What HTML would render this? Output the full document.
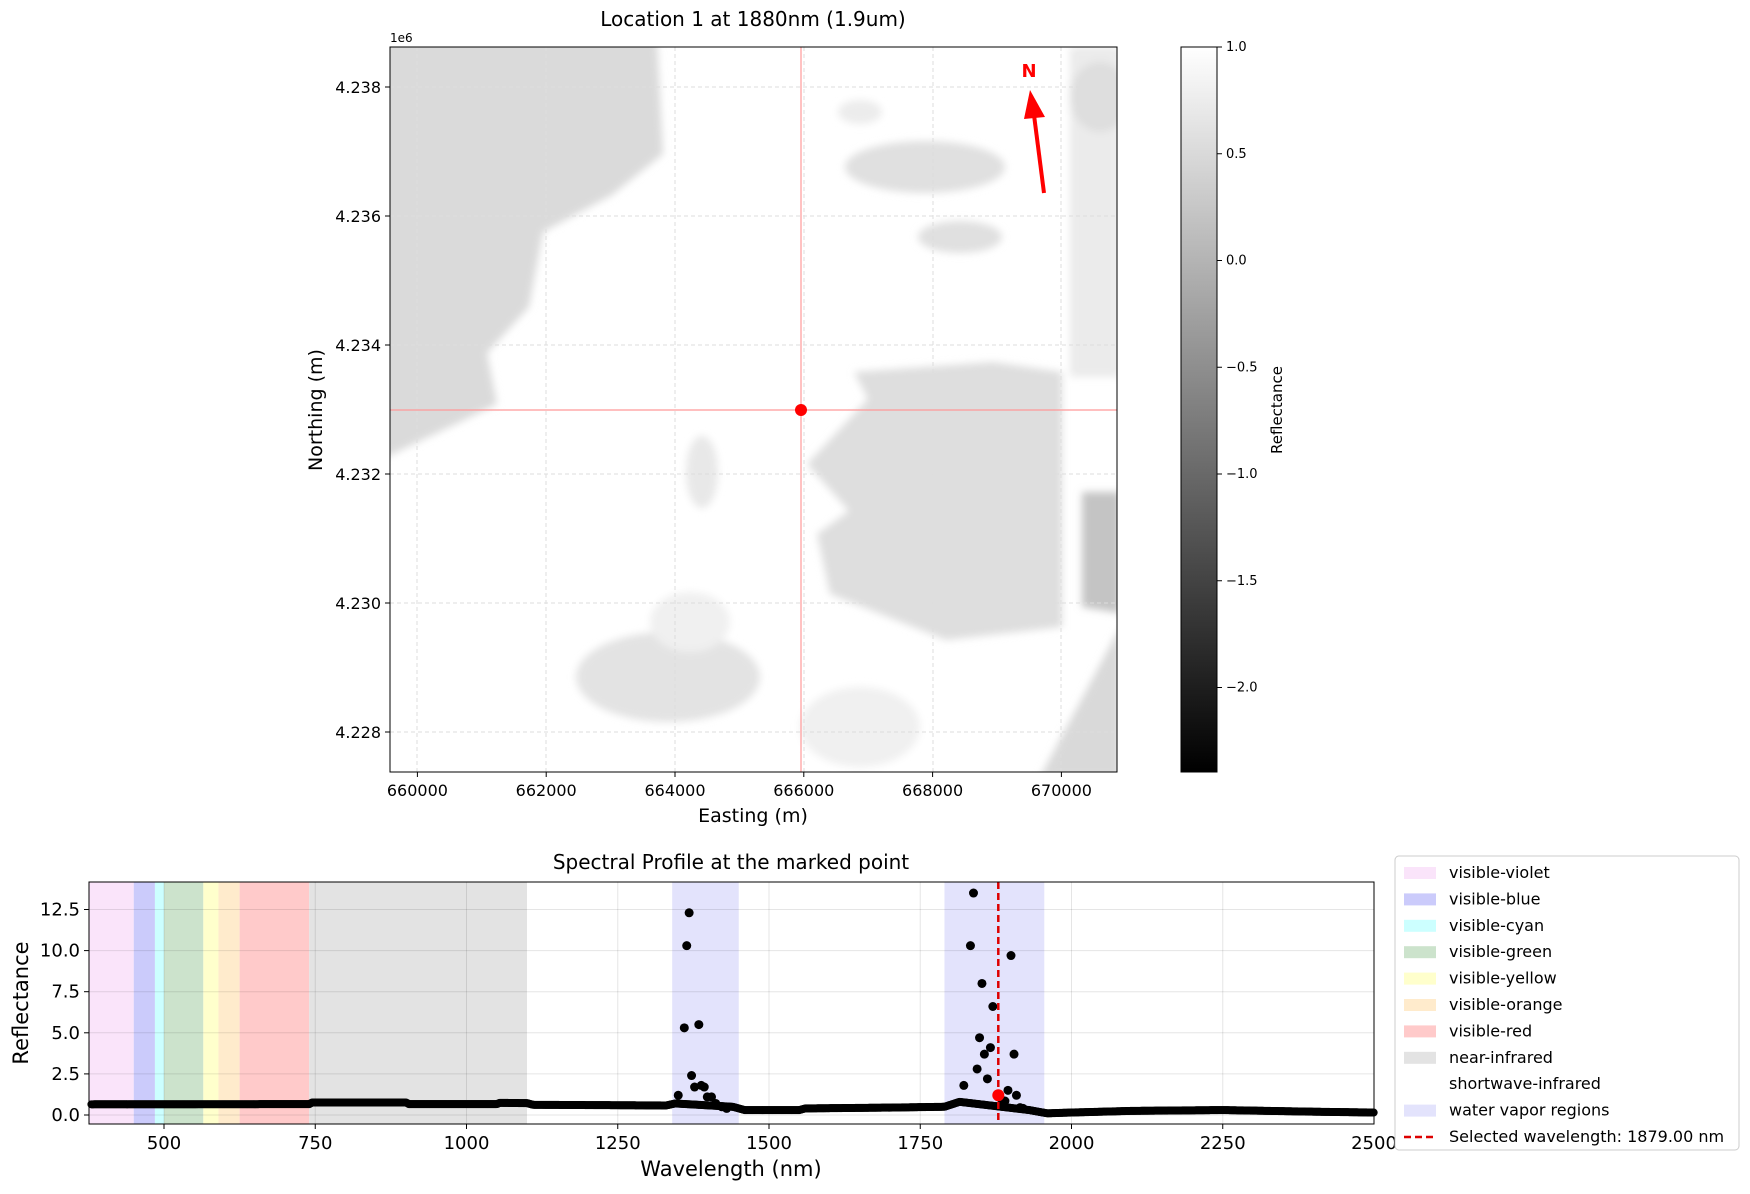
<!DOCTYPE html>
<html><head><meta charset="utf-8"><style>
body{margin:0;background:#fff;width:1750px;height:1189px;overflow:hidden;font-family:"Liberation Sans","DejaVu Sans",sans-serif}
svg text{font-family:"DejaVu Sans","Liberation Sans",sans-serif}
</style></head><body>
<svg id="s" width="1750" height="1189" xmlns="http://www.w3.org/2000/svg">
<defs>
<filter id="bl" filterUnits="userSpaceOnUse" x="0" y="0" width="1750" height="1189"><feGaussianBlur stdDeviation="4"/></filter>
<linearGradient id="cb" x1="0" y1="1" x2="0" y2="0"><stop offset="0" stop-color="#000"/><stop offset="1" stop-color="#fff"/></linearGradient>
<clipPath id="mc"><rect x="390" y="47" width="727" height="725"/></clipPath>
</defs>
<text x="753" y="26" font-size="20" text-anchor="middle">Location 1 at 1880nm (1.9um)</text>
<g clip-path="url(#mc)">
<rect x="390" y="47" width="727" height="725" fill="#fff"/>
<g filter="url(#bl)">
<g transform="translate(390,47)">
<polygon points="-10,-10 267,-10 273,107 222,148 153,185 139,260 97,306 107,357 70,375 -10,413" fill="#dadada"/>
<ellipse cx="278" cy="630" rx="92" ry="45" fill="#e3e3e3"/>
<ellipse cx="300" cy="575" rx="40" ry="30" fill="#f0f0f0"/>
<polygon points="464,325 603,315 672,325 672,580 556,593 440,547 427,487 459,464 417,417 478,352" fill="#dedede"/>
<ellipse cx="535" cy="120" rx="80" ry="26" fill="#e0e0e0"/>
<ellipse cx="570" cy="190" rx="42" ry="16" fill="#e0e0e0"/>
<ellipse cx="470" cy="65" rx="22" ry="12" fill="#ececec"/>
<rect x="680" y="0" width="50" height="330" fill="#ebebeb"/>
<ellipse cx="710" cy="50" rx="30" ry="35" fill="#dedede"/>
<polygon points="692,445 730,445 730,566 692,560" fill="#c4c4c4"/>
<polygon points="650,730 730,580 730,730" fill="#d9d9d9"/>
<ellipse cx="312" cy="425" rx="16" ry="36" fill="#e8e8e8"/>
<ellipse cx="470" cy="680" rx="60" ry="40" fill="#f0f0f0"/>
</g></g>
<g stroke="#ddd" stroke-dasharray="4,3" stroke-width="1">
<line x1="417" y1="47" x2="417" y2="772"/><line x1="546" y1="47" x2="546" y2="772"/><line x1="675" y1="47" x2="675" y2="772"/><line x1="804" y1="47" x2="804" y2="772"/><line x1="933" y1="47" x2="933" y2="772"/><line x1="1061" y1="47" x2="1061" y2="772"/>
<line x1="390" y1="87" x2="1117" y2="87"/><line x1="390" y1="216" x2="1117" y2="216"/><line x1="390" y1="345" x2="1117" y2="345"/><line x1="390" y1="474" x2="1117" y2="474"/><line x1="390" y1="603" x2="1117" y2="603"/><line x1="390" y1="732" x2="1117" y2="732"/>
</g>
<line x1="801" y1="47" x2="801" y2="772" stroke="#f99" stroke-width="1.2"/>
<line x1="390" y1="410" x2="1117" y2="410" stroke="#f99" stroke-width="1.2"/>
<circle cx="801" cy="410" r="6" fill="red"/>
<line x1="1044" y1="193" x2="1034" y2="115" stroke="red" stroke-width="4"/>
<polygon points="1030,90 1045,117 1024,119" fill="red"/>
<text x="1029" y="77" font-size="18" font-weight="bold" fill="red" text-anchor="middle">N</text>
</g>
<rect x="390" y="47" width="727" height="725" fill="none" stroke="#000" stroke-width="1"/>
<g font-size="16" text-anchor="middle" id="xt"></g>
<text x="390" y="42" font-size="12">1e6</text>
<text x="753" y="822" font-size="19" text-anchor="middle">Easting (m)</text>
<text transform="translate(322,410) rotate(-90)" font-size="19" text-anchor="middle">Northing (m)</text>
<rect x="1181" y="47" width="36" height="725" fill="url(#cb)" stroke="#000"/>
<text transform="translate(1282,410) rotate(-90)" font-size="15" text-anchor="middle">Reflectance</text>
<text x="731" y="869" font-size="20" text-anchor="middle">Spectral Profile at the marked point</text>
<g id="sp"></g>
<rect x="89" y="882" width="1285" height="242" fill="none" stroke="#000"/>
<text x="731" y="1176" font-size="21" text-anchor="middle">Wavelength (nm)</text>
<text transform="translate(28,1003) rotate(-90)" font-size="21" text-anchor="middle">Reflectance</text>
<g id="lg"></g>
</svg>
<script>
var S=document.getElementById('s'),NS='http://www.w3.org/2000/svg';
function el(p,t,a,tx){var e=document.createElementNS(NS,t);for(var k in a)e.setAttribute(k,a[k]);if(tx!==undefined)e.textContent=tx;(p||S).appendChild(e);return e;}
var xt=document.getElementById('xt');
for(var i=0;i<6;i++){var x=417.4+i*128.8;el(xt,'line',{x1:x,y1:772,x2:x,y2:777,stroke:'#000'});el(xt,'text',{x:x,y:796},String(660000+i*2000));}
for(var i=0;i<6;i++){var y=87+i*129;el(xt,'line',{x1:385,y1:y,x2:390,y2:y,stroke:'#000'});el(xt,'text',{x:381,y:y+6,'text-anchor':'end'},(4.238-i*0.002).toFixed(3));}
[1.0,0.5,0.0,-0.5,-1.0,-1.5,-2.0].forEach(function(v){var y=47+(1-v)/0.5*106.75;el(xt,'line',{x1:1217,y1:y,x2:1222,y2:y,stroke:'#000'});el(xt,'text',{x:1226,y:y+4,'text-anchor':'start','font-size':'13'},(v<0?'\u2212':'')+Math.abs(v).toFixed(1));});
var sp=document.getElementById('sp');
function X(w){return 164+(w-500)*151.25/250;} function Y(r){return 1115-r*41.1/2.5;}
var bands=[[376,450],[450,485],[485,500],[500,565],[565,590],[590,625],[625,740],[740,1100],[1340,1450],[1790,1955]];
var fills=['#fae4fa','#cbcbfb','#ccffff','#cce3cc','#ffffcc','#ffebcc','#ffcaca','#e3e3e3','#e3e3fc','#e3e3fc'];
bands.forEach(function(b,i){el(sp,'rect',{x:X(b[0]),y:882,width:X(b[1])-X(b[0]),height:242,fill:fills[i]});});
for(var w=500;w<=2250;w+=250){var x=X(w);el(sp,'line',{x1:x,y1:882,x2:x,y2:1124,stroke:'#000','stroke-opacity':0.1});el(sp,'line',{x1:x,y1:1124,x2:x,y2:1129,stroke:'#000'});el(sp,'text',{x:x,y:1149,'font-size':'18','text-anchor':'middle'},String(w));}
el(sp,'text',{x:1374,y:1149,'font-size':'18','text-anchor':'middle'},'2500');
for(var r=0;r<=12.5;r+=2.5){var y=Y(r);el(sp,'line',{x1:89,y1:y,x2:1374,y2:y,stroke:'#000','stroke-opacity':0.1});el(sp,'line',{x1:84,y1:y,x2:89,y2:y,stroke:'#000'});el(sp,'text',{x:80,y:y+6,'font-size':'18','text-anchor':'end'},r.toFixed(1));}
var key=[[380,0.65],[740,0.66],[745,0.76],[900,0.76],[905,0.66],[1050,0.66],[1055,0.74],[1100,0.72],[1110,0.62],[1330,0.58],[1345,0.7],[1440,0.5],[1460,0.3],[1550,0.3],[1560,0.4],[1700,0.45],[1790,0.5],[1815,0.8],[1930,0.3],[1960,0.1],[2000,0.15],[2100,0.25],[2250,0.3],[2400,0.2],[2500,0.15]];
function base(w){for(var i=0;i<key.length-1;i++){if(w>=key[i][0]&&w<=key[i+1][0]){var t=(w-key[i][0])/(key[i+1][0]-key[i][0]);return key[i][1]+t*(key[i+1][1]-key[i][1]);}}return 0.2;}
var g=el(sp,'g',{fill:'#000'});
for(var w=380;w<=2500;w+=1.5){el(g,'circle',{cx:X(w),cy:Y(base(w)),r:4});}
var pk=[[1350,1.2],[1360,5.3],[1364,10.3],[1368,12.3],[1372,2.4],[1377,1.7],[1384,5.5],[1388,1.8],[1393,1.7],[1398,1.1],[1405,1.1],[1412,0.7],[1422,0.5],[1430,0.4],[1822,1.8],[1833,10.3],[1838,13.5],[1844,2.8],[1848,4.7],[1852,8.0],[1856,3.7],[1861,2.2],[1866,4.1],[1870,6.6],[1885,0.9],[1890,0.85],[1895,1.5],[1900,9.7],[1905,3.7],[1909,1.2],[1915,0.45],[1920,0.4]];
pk.forEach(function(p){el(g,'circle',{cx:X(p[0]),cy:Y(p[1]),r:4.5});});
el(sp,'line',{x1:X(1879),y1:882,x2:X(1879),y2:1124,stroke:'#d00','stroke-width':2.5,'stroke-dasharray':'7,4'});
el(sp,'circle',{cx:X(1879),cy:Y(1.2),r:6,fill:'red'});
var lg=document.getElementById('lg');
el(lg,'rect',{x:1395,y:856,width:344,height:294,rx:4,fill:'#fff',stroke:'#ccc'});
var names=['visible-violet','visible-blue','visible-cyan','visible-green','visible-yellow','visible-orange','visible-red','near-infrared','shortwave-infrared','water vapor regions','Selected wavelength: 1879.00 nm'];
var lf=['#fae4fa','#cbcbfb','#ccffff','#cce3cc','#ffffcc','#ffebcc','#ffcaca','#e3e3e3','none','#e3e3fc'];
names.forEach(function(n,i){var y=872+i*26.4;
 if(i<10){if(lf[i]!='none')el(lg,'rect',{x:1404,y:y-5,width:32,height:12,fill:lf[i]});}
 else el(lg,'line',{x1:1404,y1:y+1,x2:1436,y2:y+1,stroke:'#d00','stroke-width':2.5,'stroke-dasharray':'7,4'});
 el(lg,'text',{x:1449,y:y+6,'font-size':'16'},n);});
</script>
</body></html>
